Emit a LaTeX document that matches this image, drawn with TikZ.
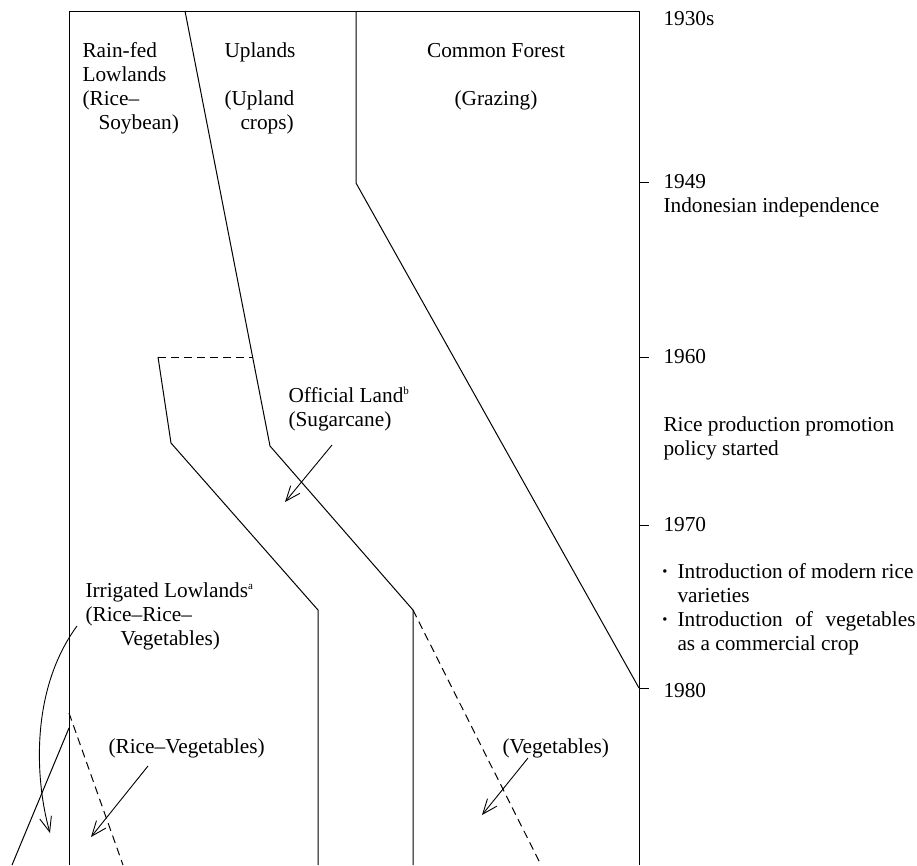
\documentclass[tikz,border=0pt]{standalone}
\usepackage{fontspec}
\setmainfont{Liberation Serif}
\usetikzlibrary{arrows.meta}
\begin{document}
\begin{tikzpicture}[x=1pt,y=-1pt,line width=1pt,
  txt/.style={inner sep=0pt,anchor=base west,font=\fontsize{21.3}{24}\selectfont},
  ctxt/.style={txt,anchor=base},
  dsh/.style={dash pattern=on 8pt off 5pt},
  arr/.style={-{Straight Barb[length=15pt,width=12pt]},line width=0.9pt},
  tick/.style={line width=1pt}]
\useasboundingbox (0,0) rectangle (917,865);
% frame
\draw (69,865) -- (69,11) -- (639,11) -- (639,865);
\foreach \yy in {182,357,525,688} \draw[tick] (639,\yy) -- (649,\yy);
% boundaries
\draw (185,11) -- (270,446) -- (413,610) -- (413,865);
\draw (356,11) -- (356,183) -- (639,688);
\draw[dsh] (158,357) -- (253,357);
\draw (158,357) -- (171,443) -- (318,610) -- (318,865);
\draw[dsh] (413,610) -- (541,865);
\draw (69,728) -- (12,865);
\draw[dsh] (69,713) -- (123,865);
% zone labels
\node[txt] (rainfed) at (82,57) {\begin{tabular}[t]{@{}l@{}}Rain-fed\\Lowlands\\(Rice–\\\hspace*{16pt}Soybean)\end{tabular}};
\node[txt] (uplands) at (224,57) {Uplands};
\node[txt] (uplandcrops) at (224,105) {\begin{tabular}[t]{@{}l@{}}(Upland\\\hspace*{16pt}crops)\end{tabular}};
\node[ctxt] (forest) at (496,57) {Common Forest};
\node[ctxt] (grazing) at (496,105) {(Grazing)};
\node[txt] (official) at (288,402) {\begin{tabular}[t]{@{}l@{}}Official Land\raisebox{8pt}{\fontsize{11}{11}\selectfont b}\\(Sugarcane)\end{tabular}};
\node[txt] (irrigated) at (85,597) {\begin{tabular}[t]{@{}l@{}}Irrigated Lowlands\raisebox{8pt}{\fontsize{11}{11}\selectfont a}\\(Rice–Rice–\\\hspace*{35pt}Vegetables)\end{tabular}};
\node[txt] (riceveg) at (108,753) {(Rice–Vegetables)};
\node[txt] (veg) at (502,753) {(Vegetables)};
% time axis labels
\node[txt] (t1930) at (663,25) {1930s};
\node[txt] (t1949) at (663,188) {1949};
\node[txt] (indep) at (663,212) {Indonesian independence};
\node[txt] (t1960) at (663,363) {1960};
\node[txt] (policy1) at (663,431) {Rice production promotion};
\node[txt] (policy2) at (663,455) {policy started};
\node[txt] (t1970) at (663,531) {1970};
\node[ctxt] (b1) at (665,578) {\textbf{·}};
\node[txt] (intro1) at (677,578) {Introduction of modern rice};
\node[txt] (intro1b) at (677,602) {varieties};
\node[ctxt] (b2) at (665,626) {\textbf{·}};
\node[txt] (intro2) at (677,626) {\makebox[238pt][s]{Introduction of vegetables}};
\node[txt] (intro2b) at (677,650) {as a commercial crop};
\node[txt] (t1980) at (663,697) {1980};
% arrows
\coordinate (olS) at (332,445); \coordinate (olE) at (285,502);
\draw[arr] (olS) -- (olE);
\coordinate (irS) at (77,626); \coordinate (irE) at (50,833);
\draw[arr] (irS) .. controls (30,690) and (35,780) .. (irE);
\coordinate (rvS) at (148,766); \coordinate (rvE) at (91,837);
\draw[arr] (rvS) -- (rvE);
\coordinate (vgS) at (528,758); \coordinate (vgE) at (482,815);
\draw[arr] (vgS) -- (vgE);
\end{tikzpicture}
\end{document}
